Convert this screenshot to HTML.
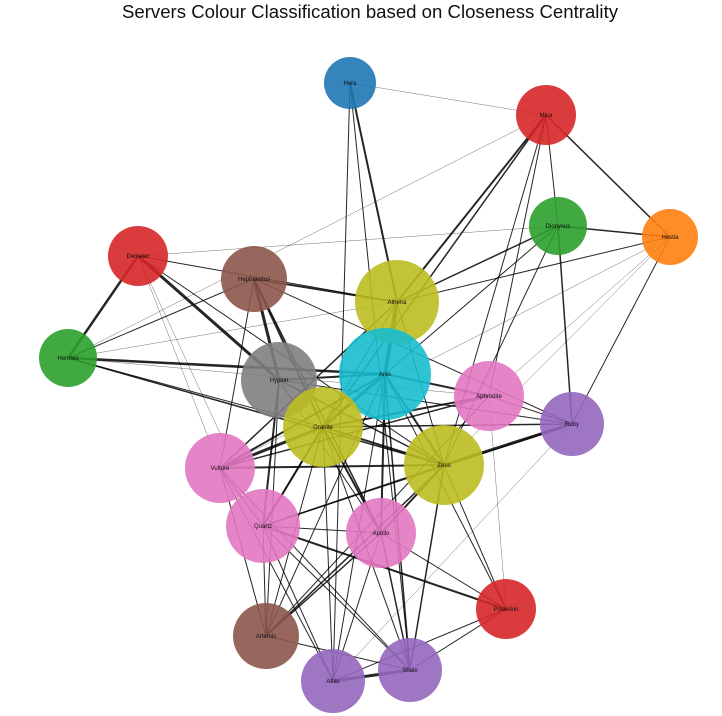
<!DOCTYPE html>
<html><head><meta charset="utf-8">
<style>
html,body{margin:0;padding:0;background:#fff;}
svg{display:block;font-family:"Liberation Sans","DejaVu Sans",sans-serif;}
</style></head>
<body>
<svg id="chart" width="722" height="716" viewBox="0 0 722 716">
<text x="370" y="18" text-anchor="middle" font-size="18.6" fill="#111">Servers Colour Classification based on Closeness Centrality</text>
<g id="edges"></g>
<g id="nodes"></g>
</svg>
<script>
const nodeNames = ["Hera","Mica","Dionysus","Hestia","Demeter","Hephaestus","Athena","Hermes","Hyplon","Ares","Aphrodite","Ruby","Granite","Vulture","Zeus","Quartz","Apollo","Poseidon","Artemis","Atlas","Shale"];
const nodeX = [350,546,558,670,138,254,397,68,279,385,489,572,323,220,444,263,381,506,266,333,410];
const nodeY = [83,115,226,237,256,279,302,358,380,374,396,424,427,468,465,526,533,609,636,681,670];
const nodeSize = [26,30,29,28,30,33,42,29,38,46,35,32,40,35,40,37,35,30,33,32,32];
const nodeColor = ["#1f77b4","#d62728","#2ca02c","#ff7f0e","#d62728","#8c564b","#bcbd22","#2ca02c","#7f7f7f","#17becf","#e377c2","#9467bd","#bcbd22","#e377c2","#bcbd22","#e377c2","#e377c2","#d62728","#8c564b","#9467bd","#9467bd"];
const edgeSource = ["Hera","Hera","Hera","Hera","Mica","Mica","Mica","Mica","Mica","Mica","Mica","Dionysus","Dionysus","Dionysus","Dionysus","Dionysus","Dionysus","Hestia","Hestia","Hestia","Hestia","Hestia","Demeter","Demeter","Demeter","Demeter","Demeter","Demeter","Hephaestus","Hephaestus","Hephaestus","Hephaestus","Hephaestus","Hephaestus","Hephaestus","Hermes","Hermes","Hermes","Hermes","Hermes","Hyplon","Hyplon","Hyplon","Hyplon","Hyplon","Hyplon","Ares","Ares","Ares","Ares","Ares","Ares","Ares","Ares","Ares","Ares","Aphrodite","Aphrodite","Aphrodite","Aphrodite","Aphrodite","Ruby","Ruby","Ruby","Ruby","Granite","Granite","Granite","Granite","Granite","Granite","Granite","Vulture","Vulture","Vulture","Vulture","Vulture","Zeus","Zeus","Zeus","Zeus","Zeus","Quartz","Quartz","Quartz","Quartz","Quartz","Apollo","Apollo","Apollo","Apollo","Atlas","Atlas","Shale","Artemis","Athena","Athena","Athena"];
const edgeTarget = ["Mica","Athena","Atlas","Shale","Athena","Hestia","Dionysus","Granite","Hermes","Zeus","Aphrodite","Ruby","Hestia","Athena","Demeter","Zeus","Ares","Athena","Ruby","Vulture","Zeus","Aphrodite","Hermes","Hyplon","Athena","Vulture","Quartz","Zeus","Athena","Hyplon","Granite","Apollo","Ruby","Vulture","Hermes","Ares","Athena","Granite","Zeus","Aphrodite","Ares","Quartz","Zeus","Apollo","Ruby","Artemis","Aphrodite","Granite","Athena","Vulture","Zeus","Apollo","Shale","Atlas","Poseidon","Artemis","Ruby","Granite","Vulture","Artemis","Poseidon","Zeus","Granite","Quartz","Atlas","Vulture","Zeus","Apollo","Quartz","Atlas","Shale","Artemis","Zeus","Quartz","Atlas","Shale","Artemis","Apollo","Poseidon","Shale","Artemis","Quartz","Apollo","Artemis","Atlas","Shale","Poseidon","Shale","Atlas","Artemis","Poseidon","Shale","Poseidon","Poseidon","Shale","Zeus","Vulture","Quartz"];
const edgeWeight = [0.5,2,1,1,2,1.5,1,1.5,0.5,1,1,1.5,1.5,1.5,0.5,1,1,1,1,0.5,0.5,0.5,2.5,3,1,0.5,0.5,1,2,3,2,1.5,1,1,1,2.5,0.5,1,1.5,0.5,2,2,1.5,1,1,1,2,3,4,2,2,2,1.5,1,1,1,1,2,1.5,1,0.5,3,1.5,1,0.5,3,2,2,2,1,1,1,2,1,1,1,1,2,1,1.5,1.5,1.5,1,1,1,1,2,1.5,1,1.5,1,3,1,1,1,1,1.5,1];

const NS="http://www.w3.org/2000/svg";
const eg=document.getElementById('edges'), ng=document.getElementById('nodes');
const idx=n=>nodeNames.indexOf(n);
for(let i=0;i<edgeSource.length;i++){
  const a=idx(edgeSource[i]), b=idx(edgeTarget[i]);
  const l=document.createElementNS(NS,'line');
  l.setAttribute('x1',nodeX[a]);l.setAttribute('y1',nodeY[a]);
  l.setAttribute('x2',nodeX[b]);l.setAttribute('y2',nodeY[b]);
  l.setAttribute('stroke','#000');l.setAttribute('stroke-opacity',edgeWeight[i]<1?0.55:0.85);
  l.setAttribute('stroke-width',edgeWeight[i]);
  
  
  eg.appendChild(l);
}
for(let i=0;i<nodeNames.length;i++){
  const g=document.createElementNS(NS,'g');
  
  
  const c=document.createElementNS(NS,'circle');
  c.setAttribute('cx',nodeX[i]);c.setAttribute('cy',nodeY[i]);c.setAttribute('r',nodeSize[i]);
  c.setAttribute('fill',nodeColor[i]);c.setAttribute('fill-opacity',0.9);
  
  
  const t=document.createElementNS(NS,'text');
  t.setAttribute('x',nodeX[i]);t.setAttribute('y',nodeY[i]+2);
  t.setAttribute('text-anchor','middle');t.setAttribute('font-size','6');t.setAttribute('fill','#111');
  t.textContent=nodeNames[i];
  
  
  g.appendChild(c);g.appendChild(t);ng.appendChild(g);
}
</script>
</body></html>
